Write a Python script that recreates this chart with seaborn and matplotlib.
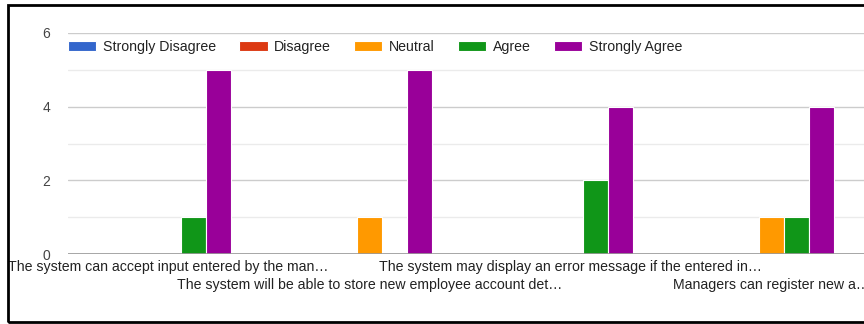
import numpy as np
import pandas as pd
import seaborn as sns
import matplotlib.pyplot as plt
from matplotlib.patches import Rectangle

statements = ["The system can accept input entered by the man…",
              "The system will be able to store new employee account det…",
              "The system may display an error message if the entered in…",
              "Managers can register new a…"]
responses = ["Strongly Disagree", "Disagree", "Neutral", "Agree", "Strongly Agree"]
strongly_disagree = [0, 0, 0, 0]
disagree = [0, 0, 0, 0]
neutral = [0, 1, 0, 1]
agree = [1, 0, 2, 1]
strongly_agree = [5, 5, 4, 4]
colors = ["#3366cc", "#dc3912", "#ff9900", "#109618", "#990099"]

rows = []
for r, vals in zip(responses, [strongly_disagree, disagree, neutral, agree, strongly_agree]):
    for s, v in zip(statements, vals):
        rows.append({"statement": s, "response": r, "count": v})
df = pd.DataFrame(rows)

sns.set_style("white")
plt.rcParams['font.family'] = ['Liberation Sans', 'DejaVu Sans']

fig = plt.figure(figsize=(8.64, 3.24), dpi=100)
ax = fig.add_axes([68/864, 70/324, 1 - 68/864, (254-33)/324])

sns.barplot(data=df, x="statement", y="count", hue="response",
            order=statements, hue_order=responses, palette=colors,
            width=0.62, edgecolor="white", linewidth=0.8,
            saturation=1, ax=ax, legend=True)

ax.set_xlim(-0.5, 3.46)
ax.set_ylim(0, 6)
ax.set_yticks([0, 2, 4, 6])
ax.set_yticks([1, 3, 5], minor=True)
ax.grid(axis="y", which="major", color="#cccccc", linewidth=1)
ax.grid(axis="y", which="minor", color="#ebebeb", linewidth=1)
ax.set_axisbelow(True)
ax.axhline(0, color="#999999", linewidth=1.2, zorder=3)
for sp in ax.spines.values():
    sp.set_visible(False)

ax.set_xlabel("")
ax.set_ylabel("")
ax.set_xticks(range(len(statements)))
ax.set_xticklabels(statements, fontsize=10.2, color="#222222")
ax.tick_params(axis="x", length=0, pad=4)
# staggered labels: every other one on a second row
for tk in ax.xaxis.get_major_ticks()[1::2]:
    tk.set_pad(17)
ax.tick_params(axis="y", which="both", length=0, pad=13, labelsize=10, labelcolor="#444444")
for lbl in ax.get_yticklabels():
    lbl.set_verticalalignment("center_baseline")

leg = ax.legend(loc="center left", bbox_to_anchor=(0, 1 - 14/221), ncol=5, frameon=False,
                fontsize=10.2, handlelength=2.0, handleheight=0.75, handletextpad=0.45,
                columnspacing=1.65, borderaxespad=0, borderpad=0)
for t in leg.get_texts():
    t.set_color("#222222")

fig.patches.append(Rectangle((8/864, 2/324), 1.2, 317/324, transform=fig.transFigure,
                             fill=False, edgecolor="black", linewidth=2))

fig.savefig("out.png", dpi=100)
